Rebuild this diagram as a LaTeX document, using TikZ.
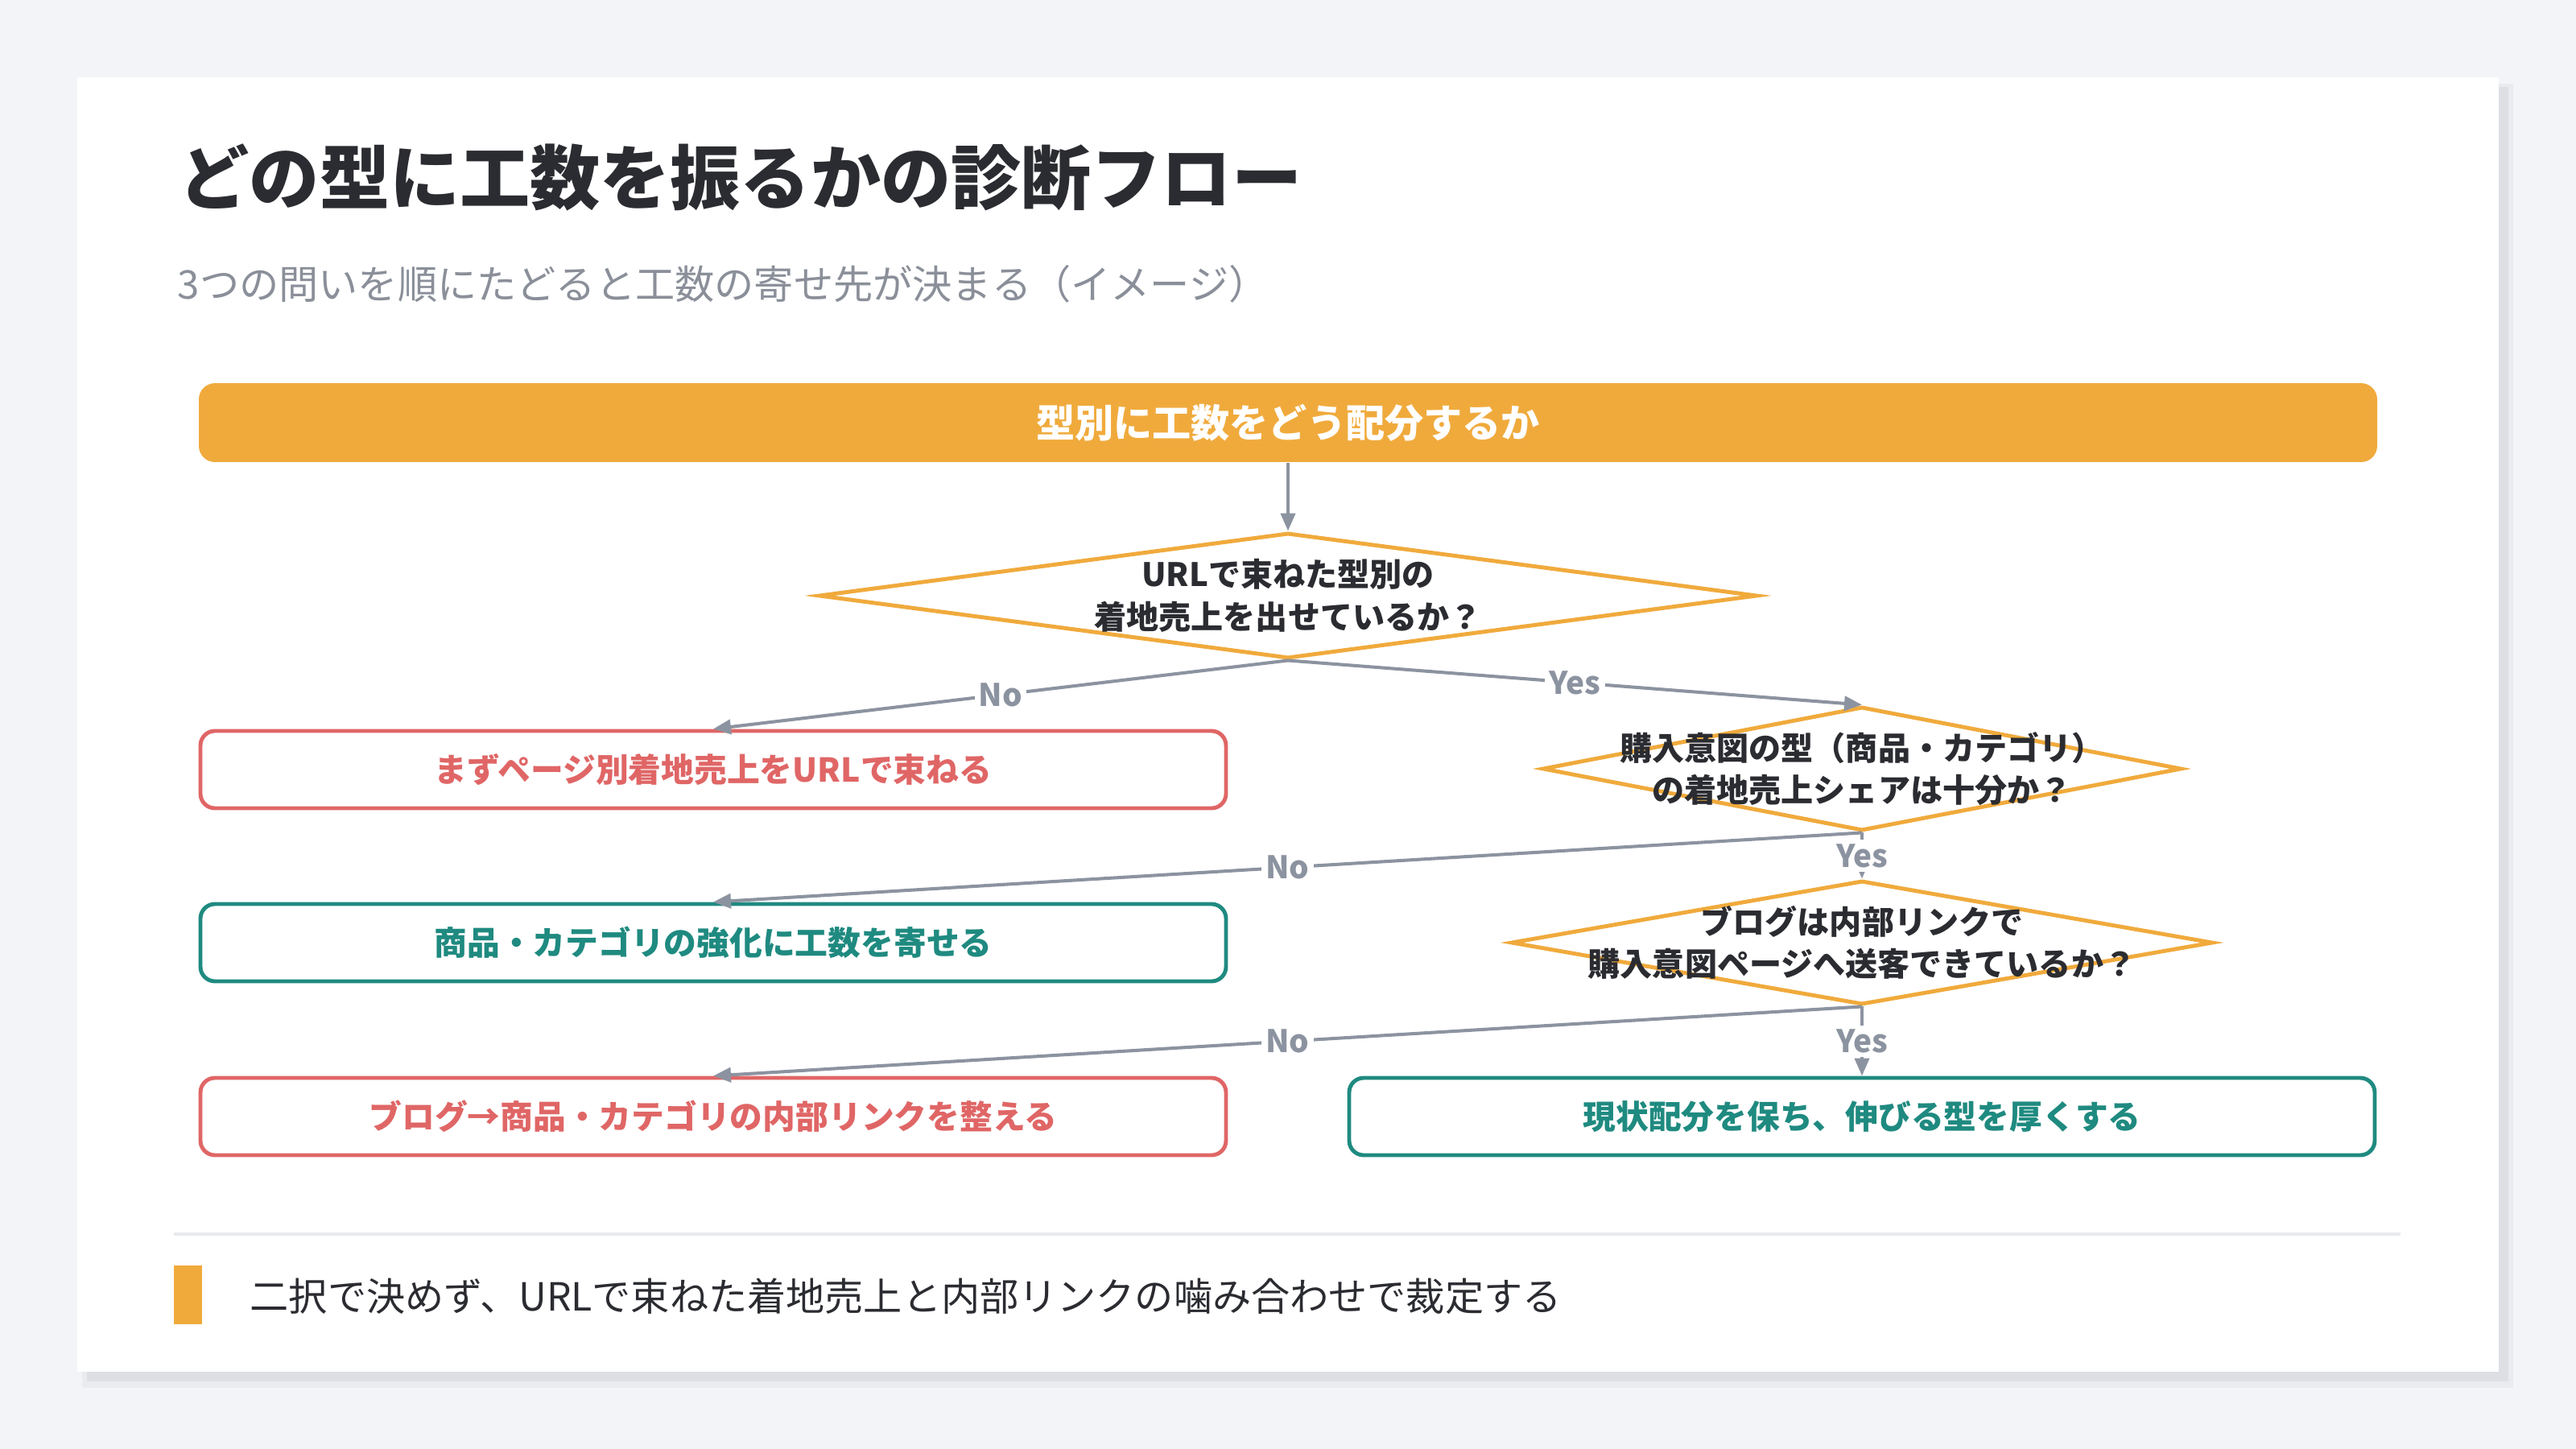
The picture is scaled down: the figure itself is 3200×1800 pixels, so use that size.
\documentclass[tikz,border=0pt]{standalone}
\usepackage{fontspec}
\setmainfont{Noto Sans CJK JP}
\newfontfamily\heavyfont{Noto Sans CJK JP Black}
\usetikzlibrary{shapes.geometric,arrows.meta}
\definecolor{pagebg}{HTML}{F3F4F8}
\definecolor{shadowlt}{HTML}{EAEBEF}
\definecolor{shadowdk}{HTML}{DDDFE5}
\definecolor{ink}{HTML}{2B2C31}
\definecolor{subgray}{HTML}{8A8F99}
\definecolor{flowor}{HTML}{F0AA3C}
\definecolor{flowgray}{HTML}{8C93A0}
\definecolor{flowred}{HTML}{E06666}
\definecolor{flowteal}{HTML}{1F8A80}
\definecolor{sepline}{HTML}{E8EAEF}
\begin{document}
\begin{tikzpicture}[x=0.1mm,y=-0.1mm,
  ask/.style={diamond,draw=flowor,line width=1.4pt,inner sep=0pt},
  asktext/.style={font=\bfseries\fontsize{11.4}{15}\selectfont,text=ink,align=center},
  endbox/.style={rounded corners=1.8mm,line width=1.4pt,fill=white,minimum width=127.4mm,minimum height=9.6mm,font=\bfseries\fontsize{11.6}{14}\selectfont},
  redbox/.style={endbox,draw=flowred,text=flowred},
  tealbox/.style={endbox,draw=flowteal,text=flowteal},
  flow/.style={draw=flowgray,line width=1.15pt,-{Triangle[length=2.2mm,width=1.8mm]}},
  lbl/.style={fill=white,inner sep=1.5pt,text=flowgray,font=\bfseries\fontsize{11}{13}\selectfont}]
  \useasboundingbox (0,0) rectangle (3200,1800);
  \fill[pagebg] (0,0) rectangle (3200,1800);
  \fill[shadowlt] (102,104) rectangle (3122,1724);
  \fill[shadowdk] (108,108) rectangle (3116,1716);
  \fill[white] (96,96) rectangle (3104,1704);

  \node[anchor=west,inner sep=0pt,text=ink,font=\heavyfont\fontsize{24.8}{28}\selectfont] (title) at (222,220) {どの型に工数を振るかの診断フロー};
  \node[anchor=west,inner sep=0pt,text=subgray,font=\fontsize{14}{17}\selectfont] (sub) at (220,353) {3つの問いを順にたどると工数の寄せ先が決まる（イメージ）};

  \node[fill=flowor,rounded corners=2mm,minimum width=270.6mm,minimum height=9.8mm,text=white,font=\bfseries\fontsize{13.7}{16}\selectfont] (top) at (1600,525) {型別に工数をどう配分するか};

  \node[ask,minimum width=116.6mm,minimum height=15.6mm] (q1) at (1600,740) {};
  \node[asktext] (q1t) at (q1) {URLで束ねた型別の\\着地売上を出せているか？};
  \node[ask,minimum width=79.4mm,minimum height=15.4mm] (q2) at (2313,955) {};
  \node[asktext] (q2t) at (q2) {購入意図の型（商品・カテゴリ）\\の着地売上シェアは十分か？};
  \node[ask,minimum width=87.2mm,minimum height=15.4mm] (q3) at (2313,1171) {};
  \node[asktext] (q3t) at (q3) {ブログは内部リンクで\\購入意図ページへ送客できているか？};

  \node[redbox] (m1) at (886,956) {まずページ別着地売上をURLで束ねる};
  \node[tealbox] (m2) at (886,1171) {商品・カテゴリの強化に工数を寄せる};
  \node[redbox] (m3) at (886,1387) {ブログ→商品・カテゴリの内部リンクを整える};
  \node[tealbox] (keep) at (2313,1387) {現状配分を保ち、伸びる型を厚くする};

  \draw[flow] (top.south) -- (q1.north);
  \draw[flow] (q1.south) -- node[lbl] {No} (m1.north);
  \draw[flow] (q1.south) -- node[lbl] {Yes} (q2.north);
  \draw[flow] (q2.south) -- node[lbl] {No} (m2.north);
  \draw[flow] (q2.south) -- node[lbl] {Yes} (q3.north);
  \draw[flow] (q3.south) -- node[lbl] {No} (m3.north);
  \draw[flow] (q3.south) -- node[lbl] {Yes} (keep.north);

  \draw[sepline,line width=1.2pt] (216,1533) -- (2982,1533);
  \fill[flowor] (216,1572) rectangle (251,1645);
  \node[anchor=west,inner sep=0pt,text=ink,font=\fontsize{13.7}{16}\selectfont] (note) at (310,1610) {二択で決めず、URLで束ねた着地売上と内部リンクの噛み合わせで裁定する};
\end{tikzpicture}
\end{document}
